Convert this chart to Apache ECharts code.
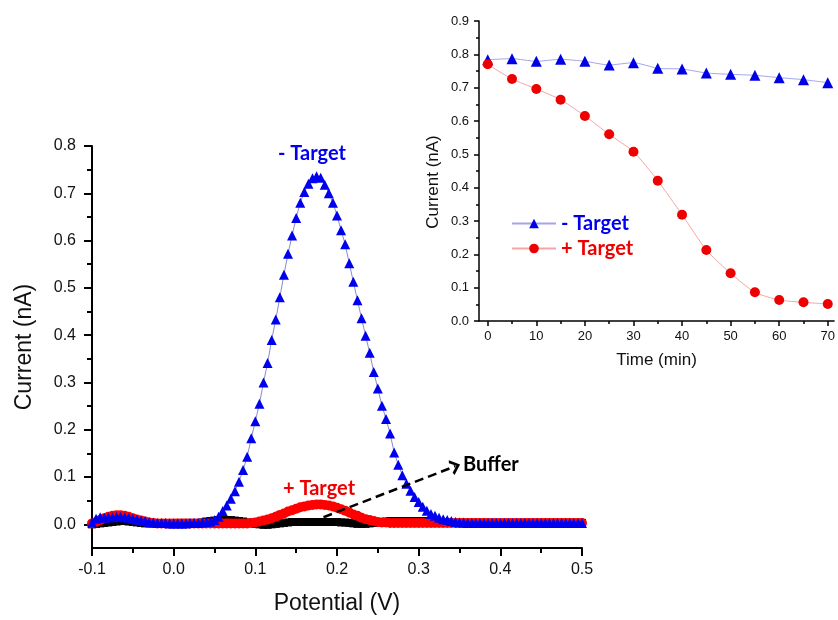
<!DOCTYPE html>
<html><head><meta charset="utf-8">
<script src="https://cdn.jsdelivr.net/npm/echarts@6/dist/echarts.min.js"></script>
<style>html,body{margin:0;padding:0;background:#fff}#c{width:838px;height:620px}</style>
</head><body><div id="c"></div>
<script>
// ---- Main chart (DPV) data ----
const potential = [
-0.100,-0.095,-0.090,-0.085,-0.080,-0.075,-0.070,-0.065,-0.060,-0.055,
-0.050,-0.045,-0.040,-0.035,-0.030,-0.025,-0.020,-0.015,-0.010,-0.005,
0.000,0.005,0.010,0.015,0.020,0.025,0.030,0.035,0.040,0.045,
0.050,0.055,0.060,0.065,0.070,0.075,0.080,0.085,0.090,0.095,
0.100,0.105,0.110,0.115,0.120,0.125,0.130,0.135,0.140,0.145,
0.150,0.155,0.160,0.165,0.170,0.175,0.180,0.185,0.190,0.195,
0.200,0.205,0.210,0.215,0.220,0.225,0.230,0.235,0.240,0.245,
0.250,0.255,0.260,0.265,0.270,0.275,0.280,0.285,0.290,0.295,
0.300,0.305,0.310,0.315,0.320,0.325,0.330,0.335,0.340,0.345,
0.350,0.355,0.360,0.365,0.370,0.375,0.380,0.385,0.390,0.395,
0.400,0.405,0.410,0.415,0.420,0.425,0.430,0.435,0.440,0.445,
0.450,0.455,0.460,0.465,0.470,0.475,0.480,0.485,0.490,0.495,
0.500];
const minusTargetDPV = [
0.004,0.012,0.015,0.014,0.015,0.015,0.016,0.016,0.015,0.014,
0.012,0.010,0.008,0.007,0.005,0.004,0.003,0.003,0.003,0.002,
0.002,0.002,0.002,0.002,0.003,0.003,0.003,0.004,0.005,0.006,
0.009,0.016,0.028,0.040,0.054,0.070,0.090,0.115,0.143,0.182,
0.218,0.255,0.300,0.341,0.390,0.433,0.480,0.528,0.572,0.611,
0.648,0.680,0.703,0.720,0.732,0.736,0.733,0.718,0.700,0.680,
0.653,0.622,0.592,0.552,0.513,0.474,0.436,0.399,0.363,0.322,
0.287,0.251,0.223,0.192,0.152,0.126,0.104,0.086,0.071,0.058,
0.047,0.037,0.029,0.022,0.018,0.014,0.011,0.009,0.007,0.005,
0.004,0.004,0.003,0.003,0.003,0.003,0.003,0.003,0.003,0.003,
0.003,0.003,0.003,0.003,0.003,0.003,0.003,0.003,0.003,0.003,
0.003,0.003,0.003,0.003,0.003,0.003,0.003,0.003,0.003,0.003,
0.003];
const plusTargetDPV = [
0.002,0.005,0.009,0.013,0.016,0.018,0.019,0.019,0.018,0.016,
0.013,0.010,0.008,0.006,0.004,0.003,0.002,0.002,0.002,0.002,
0.002,0.002,0.002,0.002,0.002,0.002,0.002,0.002,0.002,0.002,
0.002,0.002,0.002,0.002,0.002,0.002,0.002,0.002,0.002,0.003,
0.004,0.006,0.008,0.010,0.013,0.016,0.020,0.023,0.027,0.030,
0.033,0.036,0.038,0.040,0.041,0.042,0.042,0.041,0.040,0.038,
0.035,0.032,0.029,0.025,0.021,0.018,0.014,0.011,0.009,0.007,
0.005,0.004,0.004,0.003,0.003,0.003,0.003,0.003,0.003,0.003,
0.003,0.003,0.003,0.003,0.003,0.003,0.003,0.003,0.003,0.003,
0.003,0.003,0.003,0.003,0.003,0.003,0.003,0.003,0.003,0.003,
0.003,0.003,0.003,0.003,0.003,0.003,0.003,0.003,0.003,0.003,
0.003,0.003,0.003,0.003,0.003,0.003,0.003,0.003,0.003,0.003,
0.003];
const bufferDPV = [
0.000,0.001,0.002,0.003,0.004,0.005,0.006,0.007,0.007,0.006,
0.005,0.004,0.003,0.002,0.002,0.002,0.002,0.002,0.002,0.002,
0.002,0.003,0.003,0.003,0.003,0.003,0.003,0.004,0.006,0.007,
0.008,0.009,0.009,0.009,0.009,0.008,0.007,0.006,0.004,0.003,
0.001,0.000,-0.001,-0.001,0.000,0.001,0.002,0.003,0.004,0.005,
0.005,0.005,0.005,0.005,0.005,0.005,0.005,0.005,0.005,0.005,
0.005,0.004,0.004,0.003,0.002,0.001,0.001,0.001,0.002,0.003,
0.004,0.005,0.006,0.007,0.007,0.007,0.007,0.007,0.007,0.007,
0.007,0.007,0.007,0.006,0.006,0.005,0.004,0.004,0.003,0.003,
0.003,0.003,0.003,0.003,0.003,0.003,0.003,0.003,0.003,0.003,
0.003,0.003,0.003,0.003,0.003,0.003,0.003,0.003,0.003,0.003,
0.003,0.003,0.003,0.003,0.003,0.003,0.003,0.003,0.003,0.003,
0.003];
const mainYTicks = [0,0.1,0.2,0.3,0.4,0.5,0.6,0.7,0.8];
const mainYMinorTicks = [0.05,0.15,0.25,0.35,0.45,0.55,0.65,0.75];
const arrowFrom = [0.1835, 0.015];
const arrowTo = [0.345, 0.123];

// ---- Inset data ----
const times = [0,5,10,15,20,25,30,35,40,45,50,55,60,65,70];
const minusTarget = [0.784,0.787,0.779,0.785,0.779,0.768,0.775,0.758,0.756,0.744,0.740,0.737,0.730,0.724,0.715];
const plusTarget = [0.770,0.726,0.696,0.664,0.615,0.560,0.508,0.421,0.319,0.213,0.143,0.086,0.063,0.056,0.051];
const timeTicks = [0,10,20,30,40,50,60,70];
const timeMinorTicks = [5,15,25,35,45,55,65];

const F = '"Liberation Sans", Arial, sans-serif';
const BF = 'Lato, "Open Sans", sans-serif';
const pairs = (xs, ys) => xs.map((x, i) => [x, ys[i]]);

const chart = echarts.init(document.getElementById('c'), null, {renderer: 'canvas'});
const axLine = w => ({onZero: false, lineStyle: {color: '#000', width: w}});
const option = {
  animation: false,
  backgroundColor: '#fff',
  grid: [
    {left: 92, right: 256, top: 146, bottom: 67},
    {left: 479, right: 0, top: 21, bottom: 299}
  ],
  xAxis: [
    {gridIndex: 0, type: 'value', min: -0.1, max: 0.5, interval: 0.1,
     axisLine: axLine(2),
     axisTick: {length: 8, lineStyle: {color: '#000', width: 2}},
     minorTick: {show: true, splitNumber: 2, length: 5, lineStyle: {color: '#000', width: 2}},
     splitLine: {show: false}, minorSplitLine: {show: false},
     axisLabel: {formatter: v => v.toFixed(1), fontSize: 16, fontFamily: F, color: '#111', margin: 14},
     name: 'Potential (V)', nameLocation: 'middle', nameGap: 44,
     nameTextStyle: {fontSize: 23, fontFamily: F, color: '#111'}},
    {gridIndex: 1, type: 'value', min: -1.8, max: 71.3,
     axisLine: axLine(1.5),
     axisTick: {customValues: timeTicks, length: 5, lineStyle: {color: '#000', width: 1.5}},
     splitLine: {show: false},
     axisLabel: {customValues: timeTicks, fontSize: 13, fontFamily: F, color: '#111', margin: 9},
     name: 'Time (min)', nameLocation: 'middle', nameGap: 31,
     nameTextStyle: {fontSize: 17, fontFamily: F, color: '#111'}},
    {gridIndex: 1, type: 'value', min: -1.8, max: 71.3, position: 'bottom',
     axisLine: {show: false, onZero: false},
     axisTick: {customValues: timeMinorTicks, length: 3, lineStyle: {color: '#000', width: 1.5}},
     axisLabel: {show: false}, splitLine: {show: false}}
  ],
  yAxis: [
    {gridIndex: 0, type: 'value', min: -0.05, max: 0.8,
     axisLine: axLine(2),
     axisTick: {customValues: mainYTicks, length: 8, lineStyle: {color: '#000', width: 2}},
     splitLine: {show: false},
     axisLabel: {customValues: mainYTicks, formatter: v => v.toFixed(1), fontSize: 16, fontFamily: F, color: '#111', margin: 16},
     name: 'Current (nA)', nameLocation: 'middle', nameGap: 56,
     nameTextStyle: {fontSize: 23, fontFamily: F, color: '#111'}},
    {gridIndex: 0, type: 'value', min: -0.05, max: 0.8, position: 'left',
     axisLine: {show: false, onZero: false},
     axisTick: {customValues: mainYMinorTicks, length: 5, lineStyle: {color: '#000', width: 2}},
     axisLabel: {show: false}, splitLine: {show: false}},
    {gridIndex: 1, type: 'value', min: 0, max: 0.9, interval: 0.1,
     axisLine: axLine(1.5),
     axisTick: {length: 5, lineStyle: {color: '#000', width: 1.5}},
     minorTick: {show: true, splitNumber: 2, length: 3, lineStyle: {color: '#000', width: 1.5}},
     splitLine: {show: false}, minorSplitLine: {show: false},
     axisLabel: {formatter: v => v.toFixed(1), fontSize: 13, fontFamily: F, color: '#111', margin: 10}}
  ],
  legend: {
    data: [
      {name: '- Target', textStyle: {color: '#0000ee'}},
      {name: '+ Target', textStyle: {color: '#ee0000'}}
    ],
    orient: 'vertical', left: 506, top: 208, itemWidth: 44, itemHeight: 12, itemGap: 4,
    selectedMode: false,
    textStyle: {fontFamily: BF, fontWeight: 'bold', fontSize: 20, lineHeight: 21}
  },
  series: [
    {name: 'Buffer', type: 'line', xAxisIndex: 0, yAxisIndex: 0,
     data: pairs(potential, bufferDPV), symbol: 'rect', symbolSize: 8,
     itemStyle: {color: '#000'}, lineStyle: {color: '#000', width: 1}, z: 2,
     markLine: {silent: true, animation: false,
       symbol: ['none', 'path://M0,9 L5,0 L10,9 L8.2,10 L5,4 L1.8,10 Z'], symbolSize: [16, 10],
       lineStyle: {type: [9, 5], width: 2.5, color: '#000'}, label: {show: false},
       data: [[{coord: arrowFrom}, {coord: arrowTo}]]}},
    {name: 'plusMain', type: 'line', xAxisIndex: 0, yAxisIndex: 0,
     data: pairs(potential, plusTargetDPV), symbol: 'circle', symbolSize: 10,
     itemStyle: {color: '#ff0000'}, lineStyle: {color: '#f08080', width: 1}, z: 3},
    {name: 'minusMain', type: 'line', xAxisIndex: 0, yAxisIndex: 0,
     data: pairs(potential, minusTargetDPV), symbol: 'triangle', symbolSize: 10,
     itemStyle: {color: '#0000ee'}, lineStyle: {color: '#8a8ad0', width: 1}, z: 4},
    {name: '- Target', type: 'line', xAxisIndex: 1, yAxisIndex: 2,
     data: pairs(times, minusTarget), symbol: 'triangle', symbolSize: 11, smooth: 0.2,
     itemStyle: {color: '#0000e6'}, lineStyle: {color: '#a4a4ee', width: 1}, z: 5},
    {name: '+ Target', type: 'line', xAxisIndex: 1, yAxisIndex: 2,
     data: pairs(times, plusTarget), symbol: 'circle', symbolSize: 10, smooth: 0.2,
     itemStyle: {color: '#ee0000'}, lineStyle: {color: '#f5a5a5', width: 1}, z: 5}
  ],
  graphic: [
    {type: 'text', x: 312, y: 154, z: 10,
     style: {text: '- Target', fill: '#0000ee', font: 'bold 20px ' + BF, align: 'center', verticalAlign: 'middle'}},
    {type: 'text', x: 319, y: 489, z: 10,
     style: {text: '+ Target', fill: '#ee0000', font: 'bold 20px ' + BF, align: 'center', verticalAlign: 'middle'}},
    {type: 'text', x: 463, y: 465, z: 10,
     style: {text: 'Buffer', fill: '#000', font: 'bold 20px ' + BF, align: 'left', verticalAlign: 'middle'}},
    {type: 'text', x: 433, y: 182, rotation: Math.PI / 2, z: 10,
     style: {text: 'Current (nA)', fill: '#111', font: '17px ' + F, align: 'center', verticalAlign: 'middle'}}
  ]
};
chart.setOption(option);
</script></body></html>
